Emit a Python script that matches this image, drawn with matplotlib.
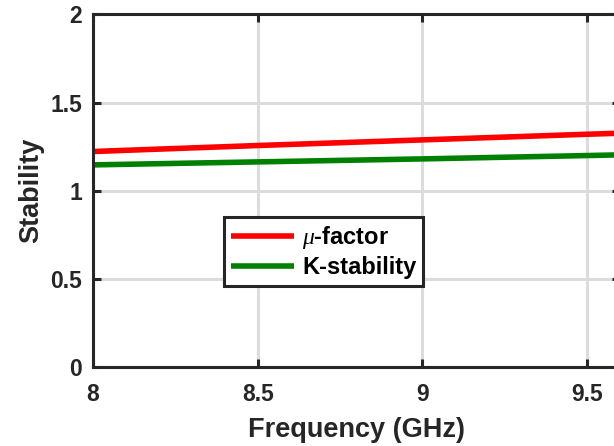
import matplotlib
matplotlib.use("Agg")
import matplotlib.pyplot as plt

plt.rcParams['font.family'] = ['Liberation Sans', 'DejaVu Sans']
plt.rcParams['mathtext.fontset'] = 'custom'
plt.rcParams['mathtext.it'] = 'Liberation Serif:italic'

freq = [8.0, 8.5, 9.0, 9.5, 9.6]
mu_factor = [1.222, 1.256, 1.288, 1.320, 1.326]
k_stability = [1.146, 1.163, 1.180, 1.199, 1.203]
labels = [r'$\mu$-factor', 'K-stability']
xticks = [8, 8.5, 9, 9.5]
yticks = [0, 0.5, 1, 1.5, 2]

fig = plt.figure(figsize=(6.14, 4.46), dpi=100)
ax = fig.add_axes([93/614, 1-366.7/446, (620-93)/614, (366.7-14.5)/446])

ax.plot(freq, mu_factor, color='#ff0000', lw=4.0, label=labels[0], solid_capstyle='butt')
ax.plot(freq, k_stability, color='#008000', lw=4.0, label=labels[1], solid_capstyle='butt')

ax.set_xlim(8, 9.6)
ax.set_ylim(0, 2)
ax.set_xticks(xticks)
ax.set_xticklabels(['8', '8.5', '9', '9.5'])
ax.set_yticks(yticks)
ax.set_yticklabels(['0', '0.5', '1', '1.5', '2'])
ax.grid(True, color='#dcdcdc', lw=2.2)
ax.set_axisbelow(True)
for s in ax.spines.values():
    s.set_linewidth(2.2)
    s.set_color('#262626')
ax.tick_params(direction='in', length=6, width=2.2, color='#262626',
               labelsize=16.5, top=True, right=True)
ax.tick_params(axis='y', pad=8)
ax.tick_params(axis='x', pad=12)
for t in ax.get_xticklabels() + ax.get_yticklabels():
    t.set_fontweight('bold')
    t.set_color('#262626')

ax.set_xlabel('Frequency (GHz)', fontsize=19.5, fontweight='bold', color='#262626', labelpad=8)
ax.set_ylabel('Stability', fontsize=19.5, fontweight='bold', color='#262626', labelpad=4)

leg = ax.legend(loc='upper left', bbox_to_anchor=((224-93)/527, (366.7-217)/352.2),
                prop={'weight': 'bold', 'size': 17}, fancybox=False, framealpha=1,
                edgecolor='#262626', handlelength=2.65, borderpad=0.3, labelspacing=0.2,
                handletextpad=0.35, borderaxespad=0)
leg.get_frame().set_linewidth(2.2)

fig.savefig('out.png', dpi=100)
